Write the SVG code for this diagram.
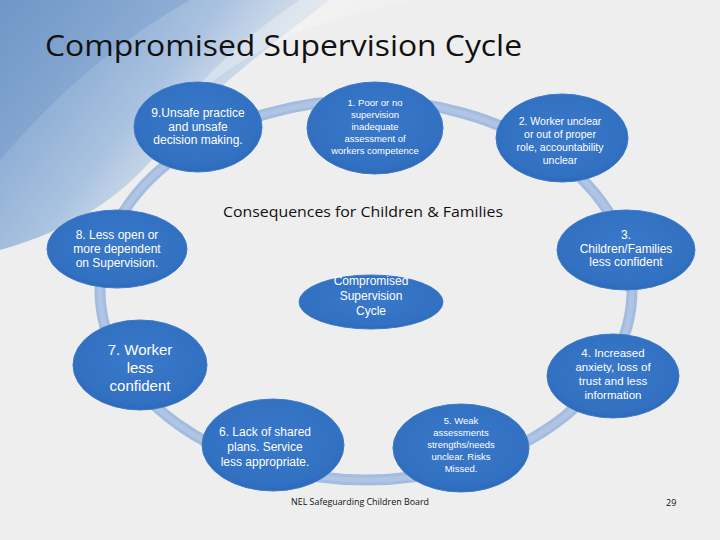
<svg xmlns="http://www.w3.org/2000/svg" width="720" height="540" viewBox="0 0 720 540">
<defs>
<linearGradient id="sw" x1="0" y1="0" x2="1" y2="0.6">
<stop offset="0" stop-color="#6f97c8"/><stop offset="0.5" stop-color="#a9c2e0"/><stop offset="1" stop-color="#e6ebf2" stop-opacity="0"/>
</linearGradient>
<linearGradient id="sw2" x1="0" y1="0" x2="1" y2="0.5">
<stop offset="0" stop-color="#ffffff" stop-opacity="0.5"/><stop offset="1" stop-color="#ffffff" stop-opacity="0"/>
</linearGradient>
<radialGradient id="nf" cx="0.5" cy="0.45" r="0.6">
<stop offset="0" stop-color="#3a78c9"/><stop offset="0.8" stop-color="#3270c2"/><stop offset="1" stop-color="#2c64b0"/>
</radialGradient>
<style>
.n{fill:url(#nf);stroke:#3d7ccc;stroke-width:1}
.t{fill:#ffffff;font-family:"Liberation Sans","Open Sans",sans-serif;text-anchor:middle}
.k{fill:#111111;font-family:"Open Sans","Liberation Sans",sans-serif}
</style>
</defs>
<rect width="720" height="540" fill="#eeeeee"/>
<path d="M0 0 H330 C250 60 190 110 160 150 C120 200 70 230 0 250 Z" fill="url(#sw)"/>
<path d="M300 0 C240 40 200 80 180 110 C230 60 300 20 420 0 Z" fill="url(#sw2)"/>
<path d="M0 0 H190 C120 40 60 90 0 160 Z" fill="#6d95c6" opacity="0.35"/>
<text class="k" x="45" y="56" font-size="29" textLength="477" lengthAdjust="spacingAndGlyphs">Compromised Supervision Cycle</text>
<g id="connectors">
<ellipse cx="366" cy="290" rx="266" ry="190" fill="none" stroke="#a3bce0" stroke-width="11"/>
<ellipse cx="366" cy="290" rx="266" ry="190" fill="none" stroke="#b9cbe6" stroke-width="5" opacity="0.6"/>
</g>
<g id="n9"><ellipse class="n" cx="198" cy="127" rx="64" ry="45"/>
<text class="t" font-size="12"><tspan x="198" y="117">9.Unsafe practice</tspan><tspan x="198" y="130.5">and unsafe</tspan><tspan x="198" y="144">decision making.</tspan></text></g>
<g id="n1"><ellipse class="n" cx="375" cy="128" rx="68" ry="46"/>
<text class="t" font-size="9.5"><tspan x="375" y="106">1. Poor or no</tspan><tspan x="375" y="118">supervision</tspan><tspan x="375" y="130">inadequate</tspan><tspan x="375" y="142">assessment of</tspan><tspan x="375" y="154">workers competence</tspan></text></g>
<g id="n2"><ellipse class="n" cx="562" cy="138" rx="66" ry="44"/>
<text class="t" font-size="10.5"><tspan x="560" y="125">2. Worker unclear</tspan><tspan x="560" y="138">or out of proper</tspan><tspan x="560" y="151">role, accountability</tspan><tspan x="560" y="164">unclear</tspan></text></g>
<g id="n8"><ellipse class="n" cx="117" cy="249" rx="70" ry="39"/>
<text class="t" font-size="12"><tspan x="117" y="239">8. Less open or</tspan><tspan x="117" y="253">more dependent</tspan><tspan x="117" y="267">on Supervision.</tspan></text></g>
<g id="n3"><ellipse class="n" cx="626" cy="250" rx="69" ry="40"/>
<text class="t" font-size="12"><tspan x="626" y="239">3.</tspan><tspan x="626" y="252.5">Children/Families</tspan><tspan x="626" y="266">less confident</tspan></text></g>
<g id="nc"><ellipse class="n" cx="371" cy="302" rx="72" ry="27"/>
<text class="t" font-size="12"><tspan x="371" y="285">Compromised</tspan><tspan x="371" y="300">Supervision</tspan><tspan x="371" y="315">Cycle</tspan></text></g>
<g id="n7"><ellipse class="n" cx="140" cy="365" rx="67" ry="45"/>
<text class="t" font-size="15"><tspan x="140" y="355">7. Worker</tspan><tspan x="140" y="373">less</tspan><tspan x="140" y="391">confident</tspan></text></g>
<g id="n4"><ellipse class="n" cx="613" cy="376" rx="66" ry="42"/>
<text class="t" font-size="11.5"><tspan x="613" y="357">4. Increased</tspan><tspan x="613" y="371">anxiety, loss of</tspan><tspan x="613" y="385">trust and less</tspan><tspan x="613" y="399">information</tspan></text></g>
<g id="n6"><ellipse class="n" cx="273" cy="445" rx="71" ry="46"/>
<text class="t" font-size="12"><tspan x="265" y="436">6. Lack of shared</tspan><tspan x="265" y="451">plans. Service</tspan><tspan x="265" y="466">less appropriate.</tspan></text></g>
<g id="n5"><ellipse class="n" cx="461" cy="448" rx="68" ry="44"/>
<text class="t" font-size="9.5"><tspan x="461" y="424">5. Weak</tspan><tspan x="461" y="436">assessments</tspan><tspan x="461" y="448">strengths/needs</tspan><tspan x="461" y="460">unclear. Risks</tspan><tspan x="461" y="472">Missed.</tspan></text></g>
<text class="k" x="223" y="217" font-size="15" textLength="280" lengthAdjust="spacingAndGlyphs">Consequences for Children &amp; Families</text>
<text class="k" x="291" y="505" font-size="8.5" textLength="138" lengthAdjust="spacingAndGlyphs">NEL Safeguarding Children Board</text>
<text class="k" x="666" y="506" font-size="9">29</text>
</svg>
